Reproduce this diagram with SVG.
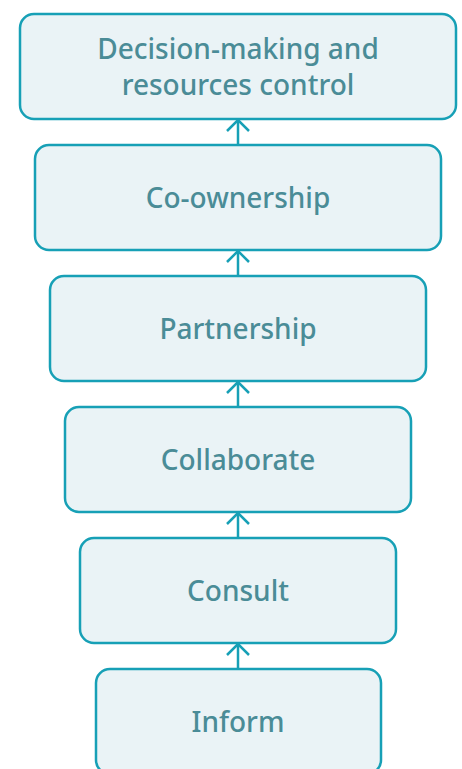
<svg xmlns="http://www.w3.org/2000/svg" width="462" height="769" viewBox="0 0 462 769">
  <style>
    .box { fill: #eaf3f6; stroke: #17a0b6; stroke-width: 2.5; }
    .label { font-family: "Noto Sans", "DejaVu Sans", sans-serif; font-size: 28px; font-weight: 500; fill: #4a8c97; text-anchor: middle; }
    .link { stroke: #17a0b6; stroke-width: 2.5; fill: none; }
  </style>
  <defs>
    <!-- open chevron head pointing along the path direction -->
    <marker id="head" viewBox="-1 -12 14 24" refX="12" refY="0" markerWidth="14" markerHeight="24" markerUnits="userSpaceOnUse" orient="auto">
      <path d="M1 -11 L12 0 L1 11" fill="none" stroke="#17a0b6" stroke-width="2.5"/>
    </marker>
  </defs>

  <g id="connectors">
    <path class="link" d="M238 145 V120" marker-end="url(#head)"/>
    <path class="link" d="M238 276 V251" marker-end="url(#head)"/>
    <path class="link" d="M238 407 V382" marker-end="url(#head)"/>
    <path class="link" d="M238 538 V513" marker-end="url(#head)"/>
    <path class="link" d="M238 669 V644" marker-end="url(#head)"/>
  </g>

  <g id="decision">
    <rect class="box" x="20" y="14" width="436" height="105" rx="14"/>
    <text class="label" x="238" y="59">Decision-making and</text>
    <text class="label" x="238" y="95">resources control</text>
  </g>
  <g id="co-ownership">
    <rect class="box" x="35" y="145" width="406" height="105" rx="14"/>
    <text class="label" x="238" y="208">Co-ownership</text>
  </g>
  <g id="partnership">
    <rect class="box" x="50" y="276" width="376" height="105" rx="14"/>
    <text class="label" x="238" y="339">Partnership</text>
  </g>
  <g id="collaborate">
    <rect class="box" x="65" y="407" width="346" height="105" rx="14"/>
    <text class="label" x="238" y="470">Collaborate</text>
  </g>
  <g id="consult">
    <rect class="box" x="80" y="538" width="316" height="105" rx="14"/>
    <text class="label" x="238" y="601">Consult</text>
  </g>
  <g id="inform">
    <rect class="box" x="96" y="669" width="285" height="105" rx="14"/>
    <text class="label" x="238" y="732">Inform</text>
  </g>
</svg>
